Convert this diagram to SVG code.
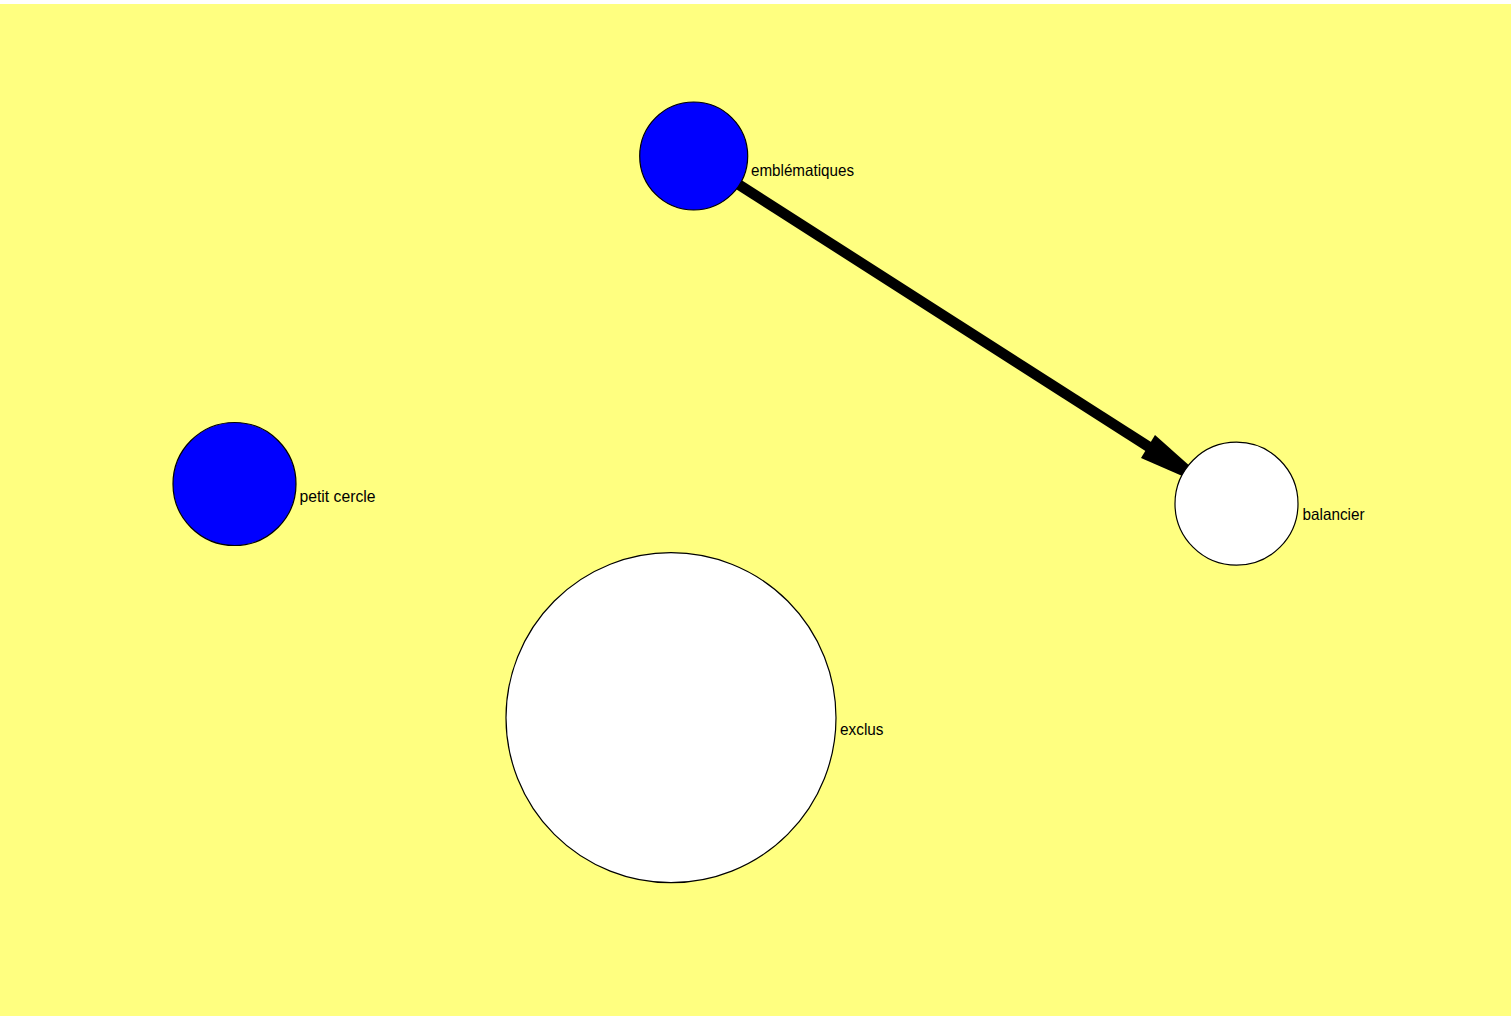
<svg xmlns="http://www.w3.org/2000/svg" width="1511" height="1016" viewBox="0 0 1511 1016">
<style>
.bg{fill:#ffff80}
.node{stroke:#000;stroke-width:1.2}
.blue{fill:#0000ff}
.white{fill:#ffffff}
.lbl{font-family:"Liberation Sans",Arial,sans-serif;font-size:16.5px;fill:#000}
.edge{stroke:#000;stroke-width:10.5;fill:none}
.head{fill:#000}
</style>
<rect x="0" y="0" width="1511" height="1016" fill="#ffffff"/>
<rect class="bg" x="0" y="4" width="1511" height="1012"/>
<g id="connectors">
<line class="edge" x1="694" y1="156" x2="1160" y2="454"/>
<polygon class="head" points="1155,435 1219,492 1141,458"/>
</g>
<g id="node-emblematiques">
<circle class="node blue" cx="693.7" cy="156" r="54"/>
<text class="lbl" x="751" y="175.5" textLength="103" lengthAdjust="spacingAndGlyphs">emblématiques</text>
</g>
<g id="node-petit-cercle">
<circle class="node blue" cx="234.5" cy="484" r="61.5"/>
<text class="lbl" x="299.5" y="502" textLength="76" lengthAdjust="spacingAndGlyphs">petit cercle</text>
</g>
<g id="node-balancier">
<circle class="node white" cx="1236.5" cy="503.7" r="61.5"/>
<text class="lbl" x="1302.5" y="520" textLength="62" lengthAdjust="spacingAndGlyphs">balancier</text>
</g>
<g id="node-exclus">
<circle class="node white" cx="671" cy="717.7" r="165"/>
<text class="lbl" x="840" y="735" textLength="43.5" lengthAdjust="spacingAndGlyphs">exclus</text>
</g>
</svg>
